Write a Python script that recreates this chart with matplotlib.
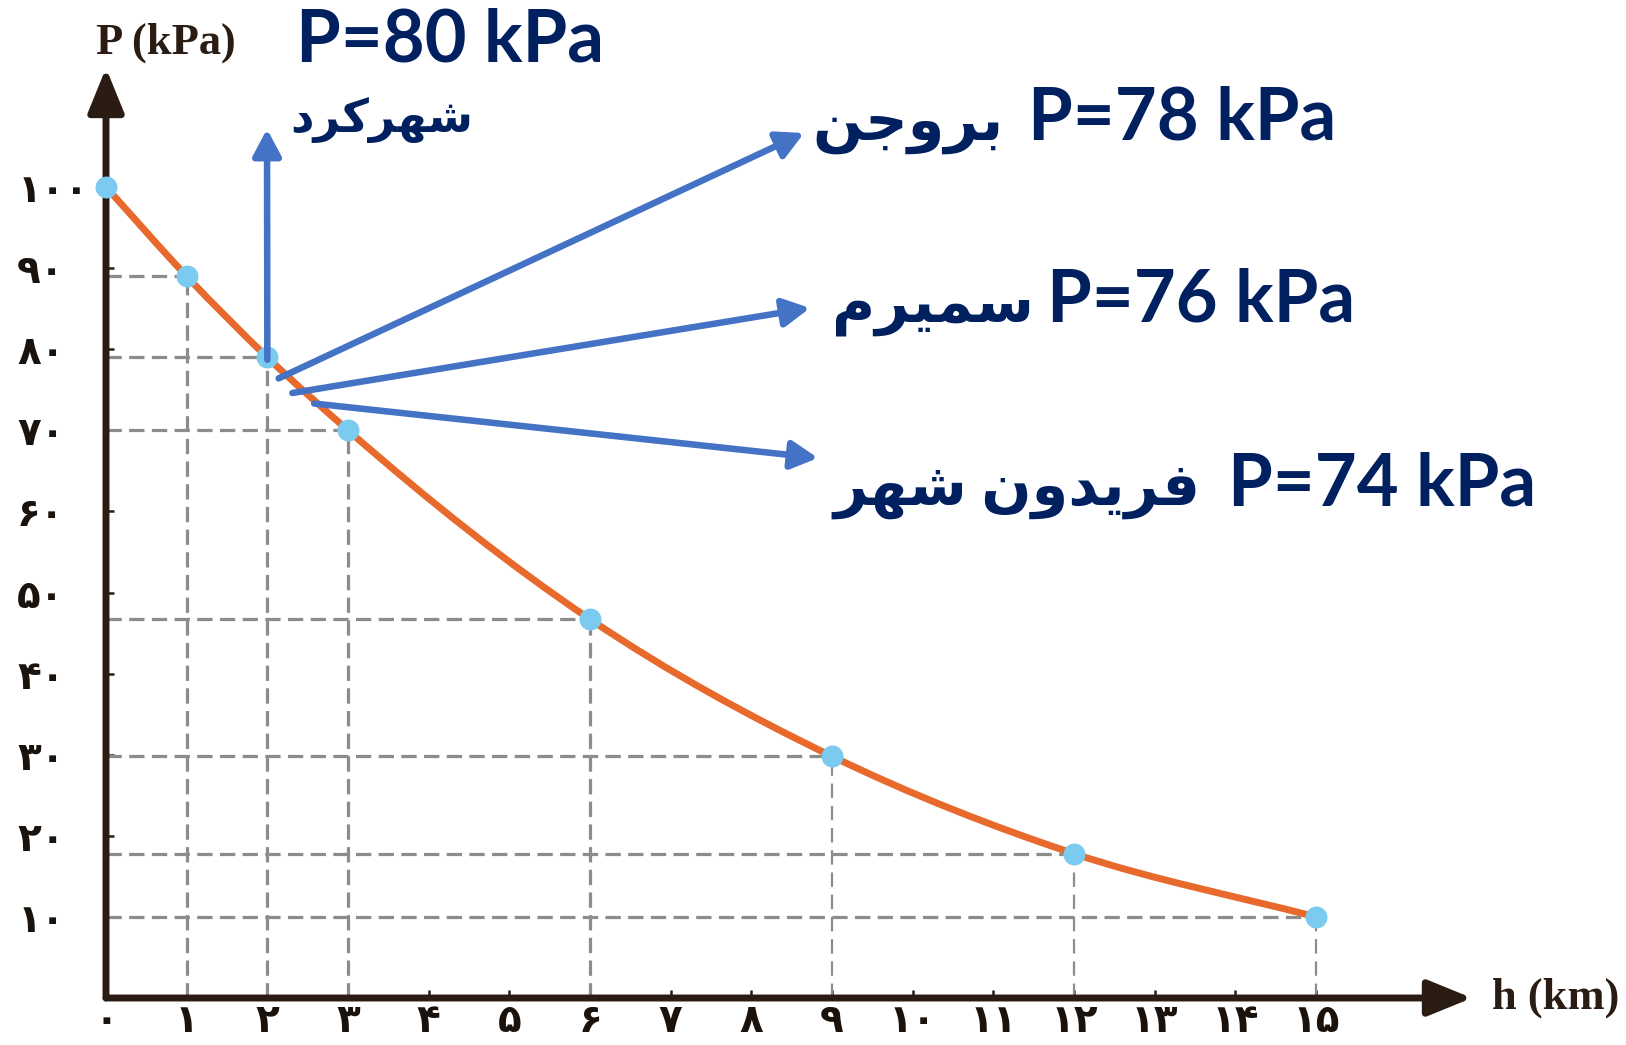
import matplotlib
matplotlib.use('Agg')
import matplotlib.pyplot as plt
from matplotlib.path import Path
from matplotlib.patches import PathPatch, FancyArrowPatch, ArrowStyle

# ---------------- data ----------------
altitude_km = [0, 1, 2, 3, 6, 9, 12, 15]
pressure_kpa = [100, 89, 79, 70, 46.7, 29.8, 17.8, 10]
x_ticks = list(range(0, 16))
y_ticks = list(range(10, 101, 10))
FA_DIGITS = '۰۱۲۳۴۵۶۷۸۹'
def fa_num(n):
    return ''.join(FA_DIGITS[int(c)] for c in str(n))
x_tick_labels = [fa_num(v) for v in x_ticks]
y_tick_labels = [fa_num(v) for v in y_ticks]

cities = ['شهرکرد', 'بروجن', 'سمیرم', 'فریدون شهر']
city_pressures = [80, 78, 76, 74]
x_label = 'h (km)'
y_label = 'P (kPa)'

# -------- minimal Persian shaping (presentation forms, visual order) -----
FORMS = {  # isolated, final, initial, medial
    'ب': ('\uFE8F', '\uFE90', '\uFE91', '\uFE92'),
    'ج': ('\uFE9D', '\uFE9E', '\uFE9F', '\uFEA0'),
    'د': ('\uFEA9', '\uFEAA', None, None),
    'ر': ('\uFEAD', '\uFEAE', None, None),
    'س': ('\uFEB1', '\uFEB2', '\uFEB3', '\uFEB4'),
    'ش': ('\uFEB5', '\uFEB6', '\uFEB7', '\uFEB8'),
    'ف': ('\uFED1', '\uFED2', '\uFED3', '\uFED4'),
    'م': ('\uFEE1', '\uFEE2', '\uFEE3', '\uFEE4'),
    'ن': ('\uFEE5', '\uFEE6', '\uFEE7', '\uFEE8'),
    'ه': ('\uFEE9', '\uFEEA', '\uFEEB', '\uFEEC'),
    'و': ('\uFEED', '\uFEEE', None, None),
    'ی': ('\uFBFC', '\uFBFD', '\uFBFE', '\uFBFF'),
    'ک': ('\uFB8E', '\uFB8F', '\uFB90', '\uFB91'),
}
def shape(text):
    out = []
    n = len(text)
    for i, ch in enumerate(text):
        if ch not in FORMS:
            out.append(ch)
            continue
        f = FORMS[ch]
        prev = text[i - 1] if i > 0 else None
        nxt = text[i + 1] if i < n - 1 else None
        jp = prev in FORMS and FORMS[prev][2] is not None
        jn = nxt in FORMS and f[2] is not None
        if jp and jn:
            out.append(f[3])
        elif jp:
            out.append(f[1])
        elif jn:
            out.append(f[2])
        else:
            out.append(f[0])
    return ''.join(reversed(out))

# ---------------- layout ----------------
W, H = 1626, 1045
fig = plt.figure(figsize=(W / 100, H / 100), dpi=100)
AX_L, AX_R, AX_B, AX_T = 106, 1472, 998, 68     # pixel box (from top)
PX_PER_KM = 80.67
PX_PER_KPA = 8.11
ax = fig.add_axes([AX_L / W, 1 - AX_B / H, (AX_R - AX_L) / W, (AX_B - AX_T) / H])
ax.set_xlim(0, (AX_R - AX_L) / PX_PER_KM)
ax.set_ylim(0, (AX_B - AX_T) / PX_PER_KPA)
for s in ax.spines.values():
    s.set_visible(False)
ax.patch.set_alpha(0)

AXIS_C = '#2a1c12'
ORANGE = '#e8692c'
DOT = '#7acbef'
GRID = '#8c8c8c'
BLUE = '#4472c4'
NAVY = '#002060'

# axis arrows
ax_style = ArrowStyle('-|>', head_length=27, head_width=11)
for pa, pb in [((0, 0), (1, 0)), ((0, 0), (0, 1))]:
    ax.add_patch(FancyArrowPatch(pa, pb, transform=ax.transAxes, arrowstyle=ax_style,
                                 mutation_scale=1, lw=5, color=AXIS_C, shrinkA=0,
                                 shrinkB=0, clip_on=False, zorder=5))

# ticks
ax.set_xticks(x_ticks)
ax.set_xticklabels(x_tick_labels)
ax.set_yticks(y_ticks)
ax.set_yticklabels(y_tick_labels)
ax.tick_params(direction='in', length=6, width=1.8, color=AXIS_C,
               labelcolor='#1a120c', labelsize=28)
ax.tick_params(axis='y', pad=64)
ax.tick_params(axis='x', pad=3)
for lab in ax.get_yticklabels() + ax.get_xticklabels():
    lab.set_family(['DejaVu Sans'])
    lab.set_weight('bold')
for lab in ax.get_yticklabels():
    lab.set_ha('left')

# dashed guide lines
for h, p in zip(altitude_km, pressure_kpa):
    if h == 0:
        continue
    ax.plot([0, h], [p, p], color=GRID, lw=2.3, dashes=(4.8, 2.3), zorder=2)
    ax.plot([h, h], [0, p], color=GRID, lw=2.3 if h <= 6 else 1.6,
            dashes=(4.8, 2.3) if h <= 6 else (6.5, 3.5), zorder=2)

# smooth curve (cubic Hermite through data, as Bezier path)
xs, ys = altitude_km, pressure_kpa
n = len(xs)
sec = [(ys[i + 1] - ys[i]) / (xs[i + 1] - xs[i]) for i in range(n - 1)]
m = [sec[0]]
for i in range(1, n - 1):
    h0 = xs[i] - xs[i - 1]
    h1 = xs[i + 1] - xs[i]
    m.append((h0 * sec[i] + h1 * sec[i - 1]) / (h0 + h1))
m.append(sec[-1])
verts = [(xs[0], ys[0])]
codes = [Path.MOVETO]
for i in range(n - 1):
    dh = xs[i + 1] - xs[i]
    verts += [(xs[i] + dh / 3, ys[i] + m[i] * dh / 3),
              (xs[i + 1] - dh / 3, ys[i + 1] - m[i + 1] * dh / 3),
              (xs[i + 1], ys[i + 1])]
    codes += [Path.CURVE4] * 3
ax.add_patch(PathPatch(Path(verts, codes), fill=False, ec=ORANGE, lw=5,
                       capstyle='round', zorder=4))

ax.plot(altitude_km, pressure_kpa, 'o', ms=15.8, color=DOT, mec='none',
        zorder=6, clip_on=False)

# axis titles
fig.text(166 / W, 1 - 43 / H, y_label, fontsize=32, fontweight='bold',
         family=['Liberation Serif'], color=AXIS_C, ha='center', va='center')
fig.text(1556 / W, 1 - 998 / H, x_label, fontsize=32, fontweight='bold',
         family=['Liberation Serif'], color=AXIS_C, ha='center', va='center')

# annotation arrows: tail on curve (data), head in figure pixels (from top)
arrow_tails = [(2.0, 78.7), (2.14, 76.4), (2.31, 74.6), (2.58, 73.3)]
arrow_heads_px = [(267, 129), (804, 133), (810, 308), (818, 458)]
bl_style = ArrowStyle('-|>', head_length=16, head_width=8.5)
for (tx, ty), (hx, hy) in zip(arrow_tails, arrow_heads_px):
    ax.annotate('', xy=(hx, H - hy), xycoords='figure pixels',
                xytext=(tx, ty), textcoords='data',
                arrowprops=dict(arrowstyle=bl_style, mutation_scale=1, lw=4.7,
                                color=BLUE, shrinkA=0, shrinkB=0), zorder=7)

# annotation texts
FAM = ['Lato', 'DejaVu Sans']
# (latin_left, latin_baseline, persian_right, persian_baseline) in pixels from top-left
label_pos_px = [(296, 62, 473, 132), (1028, 140, 1004, 140),
                (1047, 322, 1034, 322), (1228, 505, 1201, 505)]
persian_sizes = [33, 42.5, 42.5, 42.5]
for k, (city, p) in enumerate(zip(cities, city_pressures)):
    lx, ly, rx, ry = label_pos_px[k]
    fig.text(lx / W, 1 - ly / H, f'P={p} kPa', fontsize=52, family=FAM,
             weight='bold', color=NAVY, ha='left', va='baseline')
    fig.text(rx / W, 1 - ry / H, shape(city), fontsize=persian_sizes[k], family=FAM,
             weight='bold', color=NAVY, ha='right', va='baseline')

fig.savefig('out.png', dpi=100)
